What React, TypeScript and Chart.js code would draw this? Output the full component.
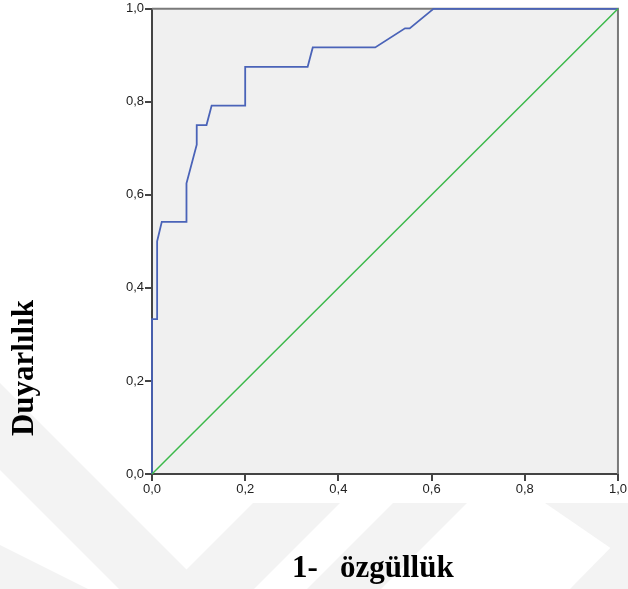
import React, { useEffect, useRef } from "react";
import { Chart, registerables } from "chart.js";

Chart.register(...registerables);

// ROC curve: 1 - specificity (x) and sensitivity (y)
const rocFpr = [0, 0, 0.011, 0.011, 0.021, 0.074, 0.074, 0.096, 0.096, 0.117, 0.128, 0.2, 0.2, 0.334, 0.345, 0.479, 0.543, 0.553, 0.604, 1];
const rocTpr = [0, 0.333, 0.333, 0.5, 0.542, 0.542, 0.625, 0.708, 0.75, 0.75, 0.792, 0.792, 0.875, 0.875, 0.917, 0.917, 0.958, 0.958, 1, 1];
// Reference diagonal
const refX = [0, 1];
const refY = [0, 1];
// Axis ticks
const tickValues = [0, 0.2, 0.4, 0.6, 0.8, 1.0];
const yTitle = "Duyarlılık";
const xTitleParts = ["1-", "özgüllük"];

const fmt = (v: number) => v.toFixed(1).replace(".", ",");

const bgPlugin = {
  id: "bgPlugin",
  beforeDraw(chart: any) {
    const { ctx, chartArea, width, height } = chart;
    ctx.save();
    ctx.fillStyle = "#ffffff";
    ctx.fillRect(0, 0, width, height);
    // faint watermark bands
    ctx.fillStyle = "#f3f3f3";
    const polys: number[][][] = [
      [[0, 383], [0, 470], [200, 670], [200, 583]],
      [[0, 545], [0, 600], [55, 655], [110, 600]],
      [[253, 503], [340, 503], [254, 589], [167, 589]],
      [[393, 503], [467, 503], [381, 589], [307, 589]],
      [[545, 503], [628, 503], [628, 560]],
      [[628, 530], [628, 589], [570, 589]],
    ];
    for (const p of polys) {
      ctx.beginPath();
      ctx.moveTo(p[0][0], p[0][1]);
      for (let i = 1; i < p.length; i++) ctx.lineTo(p[i][0], p[i][1]);
      ctx.closePath();
      ctx.fill();
    }
    ctx.fillStyle = "#ffffff";
    ctx.fillRect(120, 0, 508, 503);
    ctx.fillStyle = "#f0f0f0";
    ctx.fillRect(chartArea.left, chartArea.top, chartArea.right - chartArea.left, chartArea.bottom - chartArea.top);
    ctx.restore();
  },
  beforeDatasetsDraw(chart: any) {
    const { ctx, chartArea } = chart;
    ctx.save();
    ctx.strokeStyle = "#7a7a7a";
    ctx.lineWidth = 2;
    ctx.beginPath();
    ctx.moveTo(chartArea.left, chartArea.top);
    ctx.lineTo(chartArea.right, chartArea.top);
    ctx.lineTo(chartArea.right, chartArea.bottom);
    ctx.stroke();
    ctx.restore();
  },
  afterDraw(chart: any) {
    const { ctx } = chart;
    ctx.save();
    ctx.fillStyle = "#000000";
    ctx.font = 'bold 31px "Liberation Serif", "Times New Roman", serif';
    ctx.textBaseline = "middle";
    ctx.textAlign = "center";
    ctx.translate(25, 368);
    ctx.rotate(-Math.PI / 2);
    ctx.fillText(yTitle, 0, 0);
    ctx.restore();
    ctx.save();
    ctx.fillStyle = "#000000";
    ctx.font = 'bold 31px "Liberation Serif", "Times New Roman", serif';
    ctx.textBaseline = "alphabetic";
    ctx.textAlign = "left";
    ctx.fillText(xTitleParts[0], 292, 577);
    ctx.fillText(xTitleParts[1], 340, 577);
    ctx.restore();
  },
};

export default function App() {
  const ref = useRef<HTMLCanvasElement | null>(null);
  useEffect(() => {
    if (!ref.current) return;
    const roc = rocFpr.map((x, i) => ({ x, y: rocTpr[i] }));
    const diag = refX.map((x, i) => ({ x, y: refY[i] }));
    const tickFont = { family: '"Liberation Sans", Arial, sans-serif', size: 13 };
    const chart = new Chart(ref.current, {
      type: "scatter",
      data: {
        datasets: [
          {
            data: diag,
            showLine: true,
            borderColor: "#3cb94a",
            borderWidth: 1.5,
            pointRadius: 0,
            clip: false,
          },
          {
            data: roc,
            showLine: true,
            borderColor: "#4a63b8",
            borderWidth: 1.8,
            pointRadius: 0,
            clip: false,
          },
        ],
      },
      options: {
        animation: false,
        responsive: false,
        layout: { padding: { left: 0, top: 5, right: 6, bottom: 0 } },
        plugins: { legend: { display: false }, tooltip: { enabled: false } },
        scales: {
          x: {
            type: "linear",
            min: 0,
            max: 1,
            afterFit: (s: any) => { s.height = 115; },
            afterBuildTicks: (s: any) => { s.ticks = tickValues.map((v) => ({ value: v })); },
            ticks: { callback: (v: any) => fmt(Number(v)), color: "#222", font: tickFont, padding: 1, maxRotation: 0 },
            grid: { drawOnChartArea: false, drawTicks: true, tickLength: 7, color: "#444", lineWidth: 2 },
            border: { display: true, color: "#444", width: 2 },
          },
          y: {
            type: "linear",
            min: 0,
            max: 1,
            afterFit: (s: any) => { s.width = 152; },
            afterBuildTicks: (s: any) => { s.ticks = tickValues.map((v) => ({ value: v })); },
            ticks: { callback: (v: any) => fmt(Number(v)), color: "#222", font: tickFont, padding: 1 },
            grid: { drawOnChartArea: false, drawTicks: true, tickLength: 7, color: "#444", lineWidth: 2 },
            border: { display: true, color: "#444", width: 2 },
          },
        },
      },
      plugins: [bgPlugin],
    });
    return () => chart.destroy();
  }, []);
  return (
    <div style={{ position: "absolute", left: 0, top: 0, width: 628, height: 589 }}>
      <canvas ref={ref} width={628} height={589} style={{ width: 628, height: 589 }} />
    </div>
  );
}
